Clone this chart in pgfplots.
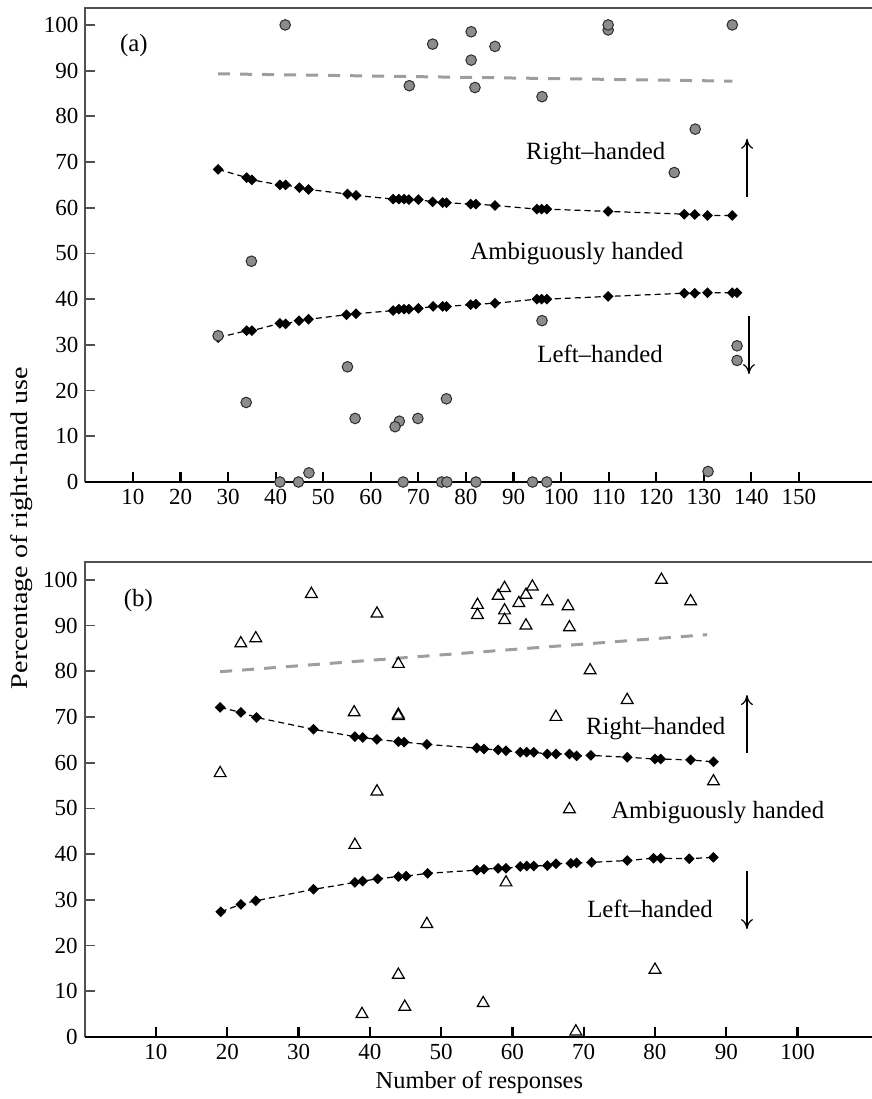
\documentclass[border=0pt]{standalone}
\usepackage{fontspec}
\setmainfont{Liberation Serif}
\usepackage{graphicx}
\usepackage{pgfplots}
\pgfplotsset{compat=1.18}
\usetikzlibrary{arrows.meta}

\definecolor{dotgray}{RGB}{140,140,140}
\definecolor{edgegray}{RGB}{45,45,45}
\definecolor{fitgray}{RGB}{158,158,158}
\definecolor{framegray}{RGB}{80,80,80}

\tikzset{
  note/.style={font=\fontsize{12.4}{14}\selectfont},
  arr/.style={black, line width=0.6pt, -{To[length=5pt,width=6pt]}},
}
\pgfplotsset{
  panel/.style={
    scale only axis, width=391pt, height=237pt,
    xmin=0, ymin=0, ymax=103.7,
    axis x line*=bottom, axis y line*=left,
    tick pos=left,
    clip=false,
    ytick={0,10,...,100},
    yticklabels={\raisebox{-4pt}{0},10,20,30,40,50,60,70,80,90,100},
    tick align=inside,
    major tick length=5pt,
    x axis line style={draw=none},
    y axis line style={draw=none},
    xtick style={black, line width=1.1pt},
    ytick style={framegray, line width=0.9pt},
    tick label style={font=\fontsize{11.5}{13}\selectfont},
    /pgf/number format/assume math mode=true,
  },
  thr/.style={black, densely dashed, line width=0.6pt, mark=square*,
    mark size=1.6pt, mark options={rotate=45, solid, fill=black}},
  fit/.style={fitgray, line width=1.5pt, dash pattern=on 6pt off 5pt},
}

\begin{document}
\begin{tikzpicture}
\useasboundingbox (-42.7pt,-308.5pt) rectangle (393.3pt,241pt);

% ---------- panel (a) ----------
\begin{axis}[panel, at={(0pt,0pt)}, anchor=south west,
  xmax=164.4, xtick={10,20,...,150}]
\draw[framegray, line width=1.1pt] ([xshift=3pt]rel axis cs:1,1) -- (rel axis cs:0,1) -- (rel axis cs:0,0);
\draw[black, line width=1pt] (rel axis cs:0,0) -- ([xshift=3pt]rel axis cs:1,0);
\addplot[fit] coordinates {(27.9,89.3)(136,87.7)};
\addplot[thr] coordinates {
 (27.9,68.4)(33.9,66.6)(35.0,66.1)(40.9,65.0)(42.1,65.0)(45.0,64.4)(46.9,64.0)
 (55.1,63.0)(56.9,62.7)(64.7,61.9)(65.9,61.9)(67.0,61.9)(68.0,61.8)(70.0,61.8)
 (73.0,61.3)(75.1,61.1)(75.9,61.1)(81.0,60.8)(82.1,60.8)(86.1,60.5)(94.9,59.7)
 (95.9,59.7)(97.0,59.7)(109.9,59.2)(125.9,58.6)(128.1,58.5)(130.8,58.3)(136.0,58.3)};
\addplot[thr] coordinates {
 (27.9,31.6)(33.9,33.1)(35.0,33.1)(40.9,34.7)(42.1,34.6)(44.9,35.3)(46.9,35.6)
 (54.9,36.6)(56.9,36.8)(64.7,37.5)(65.9,37.8)(67.0,37.8)(68.0,37.8)(70.0,38.0)
 (73.1,38.4)(75.1,38.4)(75.9,38.4)(81.0,38.8)(82.1,38.9)(86.1,39.1)(94.9,40.0)
 (95.9,40.0)(97.0,40.0)(109.9,40.6)(125.9,41.3)(128.1,41.3)(130.8,41.4)(136.0,41.4)(137.0,41.4)};
\addplot[only marks, mark=*, mark size=2.65pt,
  mark options={fill=dotgray, draw=edgegray, line width=0.5pt}] coordinates {
 (42.0,100)(73.0,95.8)(81.1,98.5)(81.1,92.3)(68.1,86.7)(81.9,86.3)(86.1,95.3)
 (96.0,84.3)(109.9,98.9)(109.9,100)(136.0,100)(128.2,77.2)(123.8,67.7)
 (34.9,48.3)(27.9,32.0)(33.8,17.4)(55.1,25.2)(56.7,13.9)(66.0,13.3)(65.1,12.1)
 (69.9,13.9)(75.9,18.2)(96.0,35.3)(137.0,29.8)(137.0,26.6)
 (40.9,0)(44.8,0)(47.0,2.0)(66.8,0)(74.9,0)(76.0,0)(82.1,0)(94.0,0)(97.0,0)(130.9,2.3)};
\node[note, anchor=west] at (axis cs:5.8,95.4) {(a)};
\node[note] at (axis cs:107.3,71.8) {Right–handed};
\node[note] at (axis cs:103.3,49.9) {Ambiguously handed};
\node[note] at (axis cs:108.2,28.0) {Left–handed};
\draw[arr] (axis cs:139.1,62.4) -- (axis cs:139.1,75.1);
\draw[arr] (axis cs:139.5,36.3) -- (axis cs:139.5,23.6);
\end{axis}

% ---------- panel (b) ----------
\begin{axis}[panel, at={(-0.35pt,-277.5pt)}, anchor=south west,
  height=237.5pt, ymax=103.9, xmax=109.7, xtick={10,20,...,100}]
\draw[framegray, line width=1.1pt] ([xshift=3pt]rel axis cs:1,1) -- (rel axis cs:0,1) -- (rel axis cs:0,0);
\draw[black, line width=1pt] (rel axis cs:0,0) -- ([xshift=3pt]rel axis cs:1,0);
\addplot[fit] coordinates {(19,79.9)(87.3,88.0)};
\addplot[thr] coordinates {
 (19.0,72.1)(21.9,71.0)(24.1,69.9)(32.1,67.3)(37.9,65.7)(39.0,65.5)(41.0,65.1)
 (44.0,64.6)(44.8,64.5)(48.0,64.0)(55.0,63.2)(56.0,63.0)(58.0,62.8)(59.1,62.6)
 (61.1,62.3)(62.0,62.3)(63.0,62.3)(64.9,61.9)(66.1,61.9)(68.0,61.9)(69.0,61.5)
 (71.0,61.6)(76.1,61.2)(80.0,60.8)(80.8,60.8)(85.0,60.6)(88.2,60.2)};
\addplot[thr] coordinates {
 (19.1,27.4)(21.9,29.0)(24.0,29.8)(32.1,32.3)(37.9,33.8)(39.0,34.1)(41.1,34.6)
 (44.0,35.1)(45.1,35.2)(48.1,35.8)(55.0,36.5)(56.0,36.7)(58.0,36.9)(59.1,36.9)
 (61.1,37.3)(62.0,37.4)(63.0,37.4)(64.9,37.5)(66.1,37.9)(68.2,38.0)(69.0,38.1)
 (71.1,38.2)(76.1,38.6)(79.8,39.1)(80.8,39.1)(84.8,39.0)(88.2,39.3)};
\addplot[only marks, mark=triangle, mark size=3.4pt,
  mark options={draw=black, line width=0.6pt}] coordinates {
 (55.1,94.5)(55.1,92.3)(58.9,98.2)(58.0,96.5)(58.9,93.3)(58.9,91.2)(62.8,98.5)
 (61.9,96.7)(60.9,94.9)(61.9,90.0)(64.9,95.3)(67.8,94.2)(68.0,89.6)(70.9,80.2)
 (31.8,96.9)(80.9,100.0)(85.0,95.3)(41.0,92.6)(21.9,86.1)(24.0,87.2)(44.0,81.6)
 (37.8,71.0)(44.0,70.5)(44.0,70.2)(19.0,57.7)(41.0,53.7)(37.9,42.0)(76.1,73.7)
 (66.1,70.0)(88.2,55.9)(68.0,49.8)(48.0,24.7)(44.0,13.6)(44.9,6.6)(38.9,5.0)
 (59.1,33.8)(80.0,14.7)(55.9,7.4)(68.9,1.2)};
\node[note, anchor=west] at (axis cs:4.5,95.4) {(b)};
\node[note] at (axis cs:80.1,67.4) {Right–handed};
\node[note] at (axis cs:88.8,49.0) {Ambiguously handed};
\node[note] at (axis cs:79.3,28.0) {Left–handed};
\draw[arr] (axis cs:92.9,62.2) -- (axis cs:92.9,74.8);
\draw[arr] (axis cs:92.9,36.4) -- (axis cs:92.9,23.6);
\end{axis}

\node[rotate=90, font=\fontsize{12}{14}\selectfont] at (-31.7pt,-23pt)
  {\scalebox{1.17}[1]{Percentage of right-hand use}};
\node[font=\fontsize{12.2}{14}\selectfont] at (197pt,-300pt) {Number of responses};
\end{tikzpicture}
\end{document}
